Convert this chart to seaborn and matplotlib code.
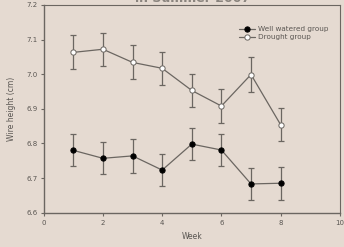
import matplotlib
matplotlib.use("Agg")
import matplotlib.pyplot as plt
import numpy as np
import pandas as pd
import seaborn as sns

weeks = [1, 2, 3, 4, 5, 6, 7, 8]
well_watered = [6.780, 6.757, 6.764, 6.723, 6.798, 6.781, 6.683, 6.685]
well_watered_err = [0.046, 0.046, 0.048, 0.046, 0.046, 0.046, 0.046, 0.047]
drought = [7.063, 7.072, 7.034, 7.017, 6.953, 6.908, 6.999, 6.854]
drought_err = [0.049, 0.048, 0.049, 0.048, 0.048, 0.049, 0.050, 0.047]
group_names = ["Well watered group", "Drought group"]

bg = "#e5dad1"
ink = "#6b6661"
text_col = "#5a5652"

sns.set_theme(style="ticks")
plt.rcParams.update({
    "font.family": ["DejaVu Sans"],
    "font.size": 5,
    "axes.edgecolor": ink,
    "axes.linewidth": 1.0,
    "xtick.color": ink,
    "ytick.color": ink,
    "xtick.labelcolor": text_col,
    "ytick.labelcolor": text_col,
    "xtick.major.size": 2.5,
    "ytick.major.size": 2.5,
    "xtick.major.width": 0.8,
    "ytick.major.width": 0.8,
})

df = pd.DataFrame({
    "Week": weeks * 2,
    "height": well_watered + drought,
    "err": well_watered_err + drought_err,
    "group": [group_names[0]] * len(weeks) + [group_names[1]] * len(weeks),
})

fig = plt.figure(figsize=(3.44, 2.47), dpi=100, facecolor=bg)
ax = fig.add_axes([0.127, 0.139, 0.861, 0.841], facecolor=bg)

for name, face in zip(group_names, ["black", "white"]):
    sub = df[df["group"] == name]
    ax.errorbar(sub["Week"], sub["height"], yerr=sub["err"], fmt="none",
                ecolor=ink, elinewidth=0.9, capsize=2.5, capthick=0.9, zorder=2)
    sns.lineplot(data=sub, x="Week", y="height", ax=ax, color=ink, linewidth=0.9,
                 marker="o", markersize=3.8, markerfacecolor=face,
                 markeredgecolor="black" if face == "black" else ink,
                 markeredgewidth=0.7, label=name, zorder=3)

ax.set_xlim(0, 10)
ax.set_ylim(6.6, 7.2)
ax.set_xticks([0, 2, 4, 6, 8, 10])
ax.set_yticks([6.6, 6.7, 6.8, 6.9, 7.0, 7.1, 7.2])
ax.set_yticklabels(["6.6", "6.7", "6.8", "6.9", "7.0", "7.1", "7.2"])
ax.tick_params(axis="both", labelsize=5, pad=2)
ax.tick_params(axis="x", pad=3)
for side in ["top", "right"]:
    ax.spines[side].set_linewidth(0.8)

ax.set_xlabel("Week", fontsize=5.5, color=text_col, labelpad=4)
ax.set_ylabel("Wire height (cm)", fontsize=5.5, color=text_col, labelpad=7)

leg = ax.legend(loc="upper right", bbox_to_anchor=(0.985, 0.93), frameon=False,
                fontsize=5.2, handlelength=2.2, handletextpad=0.5, labelspacing=0.3,
                labelcolor=text_col)

# title sits mostly above the top edge, as in the cropped original
fig.text(0.56, 1.008, "in Summer 2007", ha="center", va="center",
         fontsize=9, fontweight="bold", color="#8a847e")

fig.savefig("out.png", dpi=100, facecolor=bg)
